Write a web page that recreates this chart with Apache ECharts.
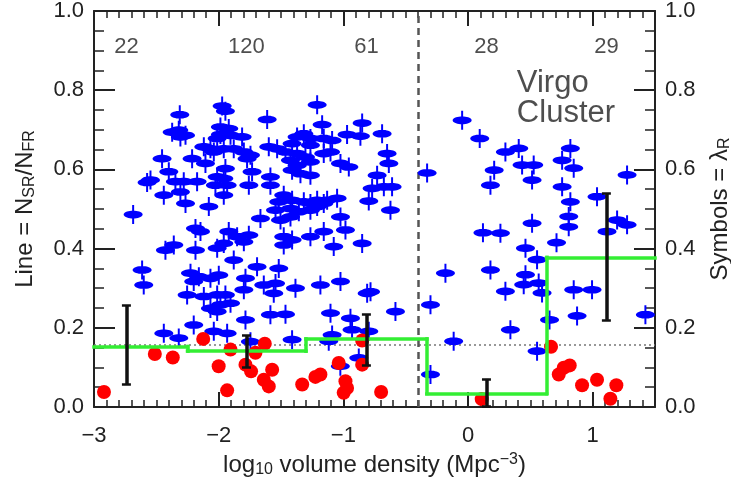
<!DOCTYPE html>
<html><head><meta charset="utf-8">
<script src="https://cdn.jsdelivr.net/npm/echarts@6/dist/echarts.min.js"></script>
<style>html,body{margin:0;padding:0;background:#fff}#c{width:731px;height:485px}</style>
</head><body><div id="c"></div>
<script>
// ---- data ----
const xTicks = [-3, -2, -1, 0, 1];
const yTicks = [0, 0.2, 0.4, 0.6, 0.8, 1.0];
const blueLambda = [
[-1.972,0.760],[-1.946,0.747],[-1.210,0.763],[-2.312,0.738],[-1.611,0.726],[-1.170,0.713],[-0.849,0.717],[-1.986,0.707],[-1.919,0.703],[-2.320,0.699],
[-2.373,0.694],[-2.266,0.686],[-2.307,0.682],[-1.986,0.688],[-1.905,0.686],[-1.812,0.682],[-2.012,0.678],[-0.970,0.688],[-0.863,0.684],[-0.689,0.690],
[-1.371,0.682],[-1.317,0.690],[-1.264,0.678],[-1.157,0.678],[-1.090,0.673],[-1.411,0.665],[-1.264,0.661],[-2.119,0.657],[-2.066,0.652],[-1.959,0.652],
[-1.879,0.652],[-1.798,0.644],[-1.745,0.636],[-1.772,0.627],[-1.598,0.657],[-1.531,0.652],[-1.464,0.644],[-1.371,0.640],[-1.304,0.631],[-1.157,0.640],
[-1.103,0.644],[-0.649,0.640],[-0.635,0.615],[-2.454,0.627],[-2.213,0.627],[-2.106,0.615],[-2.039,0.644],[-1.424,0.623],[-1.371,0.610],[-1.264,0.619],
[-1.411,0.598],[-1.344,0.589],[-1.264,0.585],[-1.023,0.615],[-0.956,0.606],[-1.946,0.602],[-2.012,0.581],[-1.959,0.577],[-2.026,0.560],[-1.932,0.560],
[-1.959,0.535],[-1.732,0.594],[-1.585,0.581],[-1.585,0.560],[-1.758,0.560],[-2.547,0.573],[-2.574,0.567],[-2.400,0.594],[-2.347,0.569],[-2.280,0.569],
[-2.173,0.569],[-2.307,0.543],[-2.266,0.514],[-2.440,0.535],[-0.729,0.585],[-0.769,0.552],[-0.675,0.556],[-0.609,0.556],[-0.796,0.520],[-0.622,0.497],
[-1.478,0.535],[-1.411,0.522],[-1.317,0.518],[-1.264,0.514],[-1.210,0.522],[-1.130,0.522],[-1.050,0.527],[-1.518,0.518],[-1.544,0.497],[-1.424,0.501],
[-1.357,0.493],[-1.264,0.497],[-1.210,0.506],[-1.157,0.514],[-1.023,0.480],[-1.665,0.476],[-1.504,0.472],[-1.424,0.480],[-0.983,0.447],[-1.157,0.443],
[-1.264,0.430],[-1.478,0.430],[-1.411,0.422],[-1.478,0.409],[-1.077,0.405],[-0.849,0.413],[-2.079,0.506],[-2.686,0.486],[-2.186,0.451],[-2.146,0.443],
[-1.919,0.443],[-1.852,0.430],[-1.758,0.434],[-1.798,0.417],[-1.959,0.413],[-2.012,0.401],[-2.186,0.396],[-2.427,0.396],[-2.360,0.409],[-1.879,0.371],
[-1.692,0.354],[-1.518,0.350],[-2.614,0.346],[-2.601,0.308],[-2.226,0.338],[-2.159,0.329],[-2.066,0.325],[-1.999,0.333],[-2.200,0.317],[-1.785,0.325],
[-1.638,0.308],[-1.544,0.312],[-1.558,0.287],[-1.384,0.300],[-1.184,0.308],[-1.023,0.317],[-2.253,0.283],[-2.119,0.279],[-2.012,0.283],[-1.946,0.283],
[-1.905,0.262],[-1.986,0.258],[-2.066,0.249],[-2.012,0.241],[-1.798,0.296],[-1.585,0.233],[-1.464,0.234],[-1.103,0.237],[-0.943,0.224],[-0.782,0.291],
[-0.809,0.287],[-0.582,0.241],[-2.200,0.207],[-1.785,0.220],[-0.930,0.195],[-0.796,0.191],[-2.440,0.186],[-2.320,0.174],[-2.039,0.191],[-1.932,0.186],
[-1.745,0.165],[-1.411,0.170],[-1.090,0.182],[-1.024,0.103],[-0.876,0.124],[-1.117,0.166],
[-0.328,0.591],[-0.047,0.724],[0.094,0.678],[0.210,0.598],[0.180,0.560],[0.120,0.440],[0.260,0.439],[0.300,0.644],[0.407,0.653],[0.434,0.611],
[0.527,0.611],[0.514,0.573],[0.514,0.464],[0.461,0.401],[0.554,0.372],[0.180,0.346],[0.461,0.334],[0.447,0.309],[0.567,0.313],[0.300,0.292],
[0.594,0.288],[0.340,0.195],[0.554,0.141],[-0.301,0.258],[-0.181,0.338],[-0.301,0.082],[-0.115,0.166],
[0.755,0.623],[0.821,0.653],[0.848,0.603],[0.755,0.556],[0.821,0.518],[0.808,0.481],[0.808,0.455],[1.035,0.531],[1.276,0.586],[1.196,0.472],
[1.276,0.460],[1.115,0.443],[0.710,0.415],[0.848,0.296],[0.995,0.296],[0.654,0.220],[0.875,0.230],[1.423,0.233]
];
const redLambda = [
[-2.92,0.038],[-2.512,0.134],[-2.368,0.125],[-2.124,0.172],[-2.0,0.103],[-1.932,0.042],[-1.905,0.145],[-1.785,0.107],[-1.74,0.09],[-1.705,0.137],
[-1.638,0.069],[-1.598,0.052],[-1.571,0.094],[-1.63,0.16],[-1.33,0.057],[-1.224,0.076],[-1.184,0.082],[-1.037,0.111],[-0.983,0.065],[-0.97,0.048],
[-0.997,0.036],[-0.849,0.107],[-0.849,0.168],[-0.697,0.038],[0.11,0.02],[0.666,0.152],[0.728,0.082],[0.768,0.099],[0.816,0.105],[0.915,0.055],
[1.035,0.069],[1.142,0.021],[1.19,0.055]
];
const binEdges = [-3, -2.25, -1.3, -0.33, 0.63, 1.5];
const binFraction = [0.153, 0.141, 0.172, 0.034, 0.378];
const errX = [-2.74, -1.777, -0.815, 0.148, 1.11];
const errLow = [0.057, 0.10, 0.105, 0.002, 0.22];
const errHigh = [0.256, 0.18, 0.233, 0.071, 0.539];
const binCounts = ['22', '120', '61', '28', '29'];
const countLevel = 0.91;
const clusterBoundary = -0.4;
const meanLevel = 0.157;
const annotText = ['Virgo', 'Cluster'];
const annotPos = [[0.388, 0.817], [0.388, 0.742]];

// ---- build ----
const FONT = '"Liberation Sans", Arial, Helvetica, sans-serif';
const TXT = '#222';
const capHalf = 0.036;
const seg = (a, b, ls) => [{ coord: a, lineStyle: ls }, { coord: b }];

// green step line as segments
const greenStyle = { color: '#33ee33', width: 3.5, type: 'solid', cap: 'square' };
const stepSegs = [];
binFraction.forEach((v, i) => {
  stepSegs.push(seg([binEdges[i], v], [binEdges[i + 1], v], greenStyle));
  if (i + 1 < binFraction.length) stepSegs.push(seg([binEdges[i + 1], v], [binEdges[i + 1], binFraction[i + 1]], greenStyle));
});
// error bars as segments
const barStyle = { color: '#111', width: 3.5, type: 'solid' };
const capStyle = { color: '#111', width: 2.5, type: 'solid' };
const errSegs = [];
errX.forEach((x, i) => {
  errSegs.push(seg([x, errLow[i]], [x, errHigh[i]], barStyle));
  errSegs.push(seg([x - capHalf, errLow[i]], [x + capHalf, errLow[i]], capStyle));
  errSegs.push(seg([x - capHalf, errHigh[i]], [x + capHalf, errHigh[i]], capStyle));
});
const guideSegs = [
  seg([-3, meanLevel], [1.5, meanLevel], { color: '#777', width: 1.6, type: [2, 3] }),
  seg([clusterBoundary, 0], [clusterBoundary, 1], { color: '#555', width: 2.5, type: [7, 5] })
];
const countData = errX.map((x, i) => ({ value: [x, countLevel], name: binCounts[i] }));
const annotData = annotText.map((t, i) => ({ value: annotPos[i], name: t }));

let ell = '';
for (let k = 0; k < 36; k++) {
  const a = k / 36 * Math.PI * 2;
  ell += (k === 0 ? 'M' : 'L') + (10 + 9.6 * Math.cos(a)).toFixed(2) + ',' + (10 + 4.1 * Math.sin(a)).toFixed(2) + ' ';
}
const crossPath = 'path://' + ell + 'Z M9,0 L11,0 L11,20 L9,20 Z';
const xFmt = v => (Math.abs(v - Math.round(v)) < 1e-6 ? (v < 0 ? '\u2212' + Math.abs(v) : String(v)) : '');
const subRich = () => ({ fontSize: 16, fontFamily: FONT, color: TXT, verticalAlign: 'bottom', lineHeight: 14 });
const mkLine = (data, z) => ({ silent: true, symbol: ['none', 'none'], z, animation: false,
  label: { show: false }, emphasis: { disabled: true }, data });

function xAxisCfg(pos, withLabel) {
  return {
    type: 'value', min: -3, max: 1.5, interval: 1, position: pos,
    axisLine: { show: true, onZero: false, lineStyle: { color: TXT, width: 2 } },
    splitLine: { show: false },
    axisTick: { show: true, inside: true, length: 15, lineStyle: { color: TXT, width: 2 } },
    minorTick: { show: true, splitNumber: 10, length: 7, lineStyle: { color: TXT, width: 1.5 } },
    axisLabel: withLabel ? { formatter: xFmt, margin: 18, fontSize: 22, color: TXT, fontFamily: FONT } : { show: false },
    name: withLabel ? 'log{sub|10} volume density (Mpc{sup|\u22123})' : '',
    nameLocation: 'middle', nameGap: 45,
    nameTextStyle: { fontSize: 24, color: TXT, fontFamily: FONT, lineHeight: 26,
      rich: { sub: subRich(), sup: { fontSize: 16, fontFamily: FONT, color: TXT, verticalAlign: 'top', lineHeight: 14 } } }
  };
}
function yAxisCfg(pos, title, gap) {
  return {
    type: 'value', min: 0, max: 1, interval: 0.2, position: pos,
    axisLine: { show: true, onZero: false, lineStyle: { color: TXT, width: 2 } },
    splitLine: { show: false },
    axisTick: { show: true, inside: true, length: 21, lineStyle: { color: TXT, width: 2 } },
    minorTick: { show: true, splitNumber: 4, length: 10, lineStyle: { color: TXT, width: 1.5 } },
    axisLabel: { formatter: v => v.toFixed(1), margin: 10, fontSize: 22, color: TXT, fontFamily: FONT },
    name: title, nameLocation: 'middle', nameGap: gap, nameRotate: 90,
    nameTextStyle: { fontSize: 24, color: TXT, fontFamily: FONT, lineHeight: 26, rich: { s: subRich() } }
  };
}

const chart = echarts.init(document.getElementById('c'));
chart.setOption({
  animation: false,
  backgroundColor: '#fff',
  grid: { left: 94, right: 76, top: 11, bottom: 78, containLabel: false, outerBoundsMode: 'none' },
  xAxis: [xAxisCfg('bottom', true), xAxisCfg('top', false)],
  yAxis: [yAxisCfg('left', 'Line = N{s|SR}/N{s|FR}', 56), yAxisCfg('right', 'Symbols = \u03bb{s|R}', 52)],
  series: [
    { type: 'scatter', data: blueLambda, symbol: crossPath, symbolSize: [19, 19], z: 2,
      itemStyle: { color: '#0000ff', opacity: 1 }, markLine: mkLine(guideSegs, 1) },
    { type: 'scatter', data: redLambda, symbol: 'circle', symbolSize: 14, z: 3,
      itemStyle: { color: '#ff0000', opacity: 1 }, markLine: mkLine(stepSegs, 4) },
    { type: 'scatter', data: countData, symbol: 'circle', symbolSize: 2, z: 6,
      itemStyle: { color: 'rgba(0,0,0,0)' },
      label: { show: true, position: 'inside', formatter: p => p.name, fontSize: 22, color: TXT, fontFamily: FONT },
      markLine: mkLine(errSegs, 5) },
    { type: 'scatter', data: annotData, symbol: 'circle', symbolSize: 1, z: 6,
      itemStyle: { color: 'rgba(0,0,0,0)' },
      label: { show: true, position: 'right', distance: 0, formatter: p => p.name, fontSize: 31, color: TXT, fontFamily: FONT } }
  ]
});
</script></body></html>
